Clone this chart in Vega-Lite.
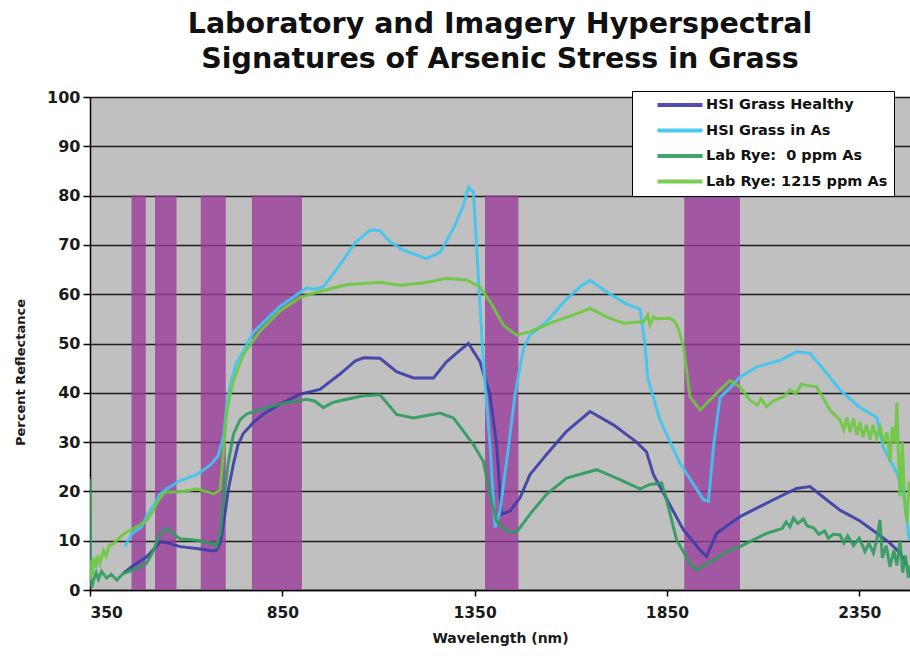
{
  "$schema": "https://vega.github.io/schema/vega-lite/v6.json",
  "width": 820,
  "height": 493,
  "autosize": {"type": "none"},
  "padding": {"left": 90, "top": 97, "right": 0, "bottom": 66},
  "background": "white",
  "config": {
    "font": "DejaVu Sans",
    "view": {"fill": "#C0C0C0", "stroke": null},
    "axis": {
      "labelFont": "DejaVu Sans",
      "labelFontWeight": "bold",
      "labelColor": "#1a1a1a",
      "titleFont": "DejaVu Sans",
      "titleFontWeight": "bold",
      "titleColor": "#1a1a1a",
      "domainColor": "#000000",
      "domainWidth": 1.5,
      "tickColor": "#000000",
      "tickWidth": 1.5
    }
  },
  "title": {
    "text": ["Laboratory and Imagery Hyperspectral", "Signatures of Arsenic Stress in Grass"],
    "font": "DejaVu Sans",
    "fontSize": 28.5,
    "fontWeight": "bold",
    "color": "#111111",
    "lineHeight": 35,
    "anchor": "middle",
    "offset": 16
  },
  "datasets": {
    "bands": [
      {"from": 458, "to": 495},
      {"from": 519, "to": 575},
      {"from": 638, "to": 703},
      {"from": 771, "to": 901},
      {"from": 1377, "to": 1464},
      {"from": 1895, "to": 2040}
    ],
    "healthy": [
      {"w": 437, "r": 3.4}, {"w": 460, "r": 4.8}, {"w": 497, "r": 6.7}, {"w": 520, "r": 8.6},
      {"w": 532, "r": 9.8}, {"w": 549, "r": 9.6}, {"w": 584, "r": 8.8}, {"w": 627, "r": 8.4},
      {"w": 671, "r": 7.9}, {"w": 680, "r": 8.1}, {"w": 690, "r": 10}, {"w": 700, "r": 15},
      {"w": 710, "r": 20.5}, {"w": 723, "r": 25.6}, {"w": 735, "r": 29.5}, {"w": 749, "r": 31.8},
      {"w": 775, "r": 34}, {"w": 801, "r": 35.7}, {"w": 844, "r": 37.7}, {"w": 896, "r": 39.7},
      {"w": 948, "r": 40.7}, {"w": 1000, "r": 43.8}, {"w": 1040, "r": 46.5}, {"w": 1061, "r": 47.1},
      {"w": 1104, "r": 47}, {"w": 1147, "r": 44.3}, {"w": 1191, "r": 43}, {"w": 1243, "r": 43},
      {"w": 1277, "r": 46.3}, {"w": 1310, "r": 48.5}, {"w": 1334, "r": 50}, {"w": 1364, "r": 46.3},
      {"w": 1390, "r": 39.6}, {"w": 1407, "r": 29.5}, {"w": 1420, "r": 15.4}, {"w": 1442, "r": 16},
      {"w": 1468, "r": 18.7}, {"w": 1494, "r": 23.4}, {"w": 1537, "r": 27.5}, {"w": 1589, "r": 32.2},
      {"w": 1650, "r": 36.2}, {"w": 1711, "r": 33.5}, {"w": 1771, "r": 30}, {"w": 1797, "r": 28},
      {"w": 1815, "r": 23.4}, {"w": 1849, "r": 18.5}, {"w": 1893, "r": 12.2}, {"w": 1936, "r": 8.1},
      {"w": 1953, "r": 6.8}, {"w": 1979, "r": 11.5}, {"w": 2040, "r": 14.9}, {"w": 2127, "r": 18.3},
      {"w": 2187, "r": 20.6}, {"w": 2222, "r": 21}, {"w": 2265, "r": 18.3}, {"w": 2300, "r": 16.2},
      {"w": 2352, "r": 14}, {"w": 2396, "r": 11.5}, {"w": 2430, "r": 9.5}, {"w": 2456, "r": 7.5},
      {"w": 2474, "r": 5}
    ],
    "stressed": [
      {"w": 441, "r": 8.8}, {"w": 458, "r": 11.4}, {"w": 484, "r": 12.8}, {"w": 497, "r": 14.8},
      {"w": 532, "r": 19.4}, {"w": 549, "r": 20.5}, {"w": 584, "r": 22.2}, {"w": 627, "r": 23.4},
      {"w": 662, "r": 25.3}, {"w": 683, "r": 27.2}, {"w": 697, "r": 31}, {"w": 705, "r": 37},
      {"w": 714, "r": 41.5}, {"w": 730, "r": 46}, {"w": 749, "r": 48.5}, {"w": 775, "r": 52.3},
      {"w": 810, "r": 55}, {"w": 844, "r": 57.5}, {"w": 880, "r": 59.5}, {"w": 913, "r": 61.3},
      {"w": 935, "r": 61}, {"w": 957, "r": 61.5}, {"w": 1000, "r": 66}, {"w": 1040, "r": 70.5},
      {"w": 1078, "r": 73}, {"w": 1104, "r": 72.9}, {"w": 1130, "r": 70.6}, {"w": 1165, "r": 68.9},
      {"w": 1191, "r": 68.2}, {"w": 1225, "r": 67.2}, {"w": 1260, "r": 68.5}, {"w": 1295, "r": 73.3},
      {"w": 1321, "r": 78}, {"w": 1334, "r": 81.7}, {"w": 1347, "r": 80.7}, {"w": 1360, "r": 63},
      {"w": 1373, "r": 46}, {"w": 1390, "r": 29.5}, {"w": 1403, "r": 12.7}, {"w": 1416, "r": 16},
      {"w": 1433, "r": 26}, {"w": 1455, "r": 39.6}, {"w": 1477, "r": 49}, {"w": 1494, "r": 51.7},
      {"w": 1537, "r": 54.4}, {"w": 1589, "r": 59}, {"w": 1624, "r": 61.5}, {"w": 1650, "r": 62.8},
      {"w": 1693, "r": 60.5}, {"w": 1745, "r": 58}, {"w": 1780, "r": 57}, {"w": 1793, "r": 50},
      {"w": 1800, "r": 43}, {"w": 1832, "r": 34.5}, {"w": 1884, "r": 25.7}, {"w": 1945, "r": 18.3},
      {"w": 1958, "r": 18}, {"w": 1971, "r": 29}, {"w": 1988, "r": 39}, {"w": 2014, "r": 41},
      {"w": 2040, "r": 43.2}, {"w": 2083, "r": 45.2}, {"w": 2144, "r": 46.6}, {"w": 2187, "r": 48.3},
      {"w": 2222, "r": 48}, {"w": 2265, "r": 44}, {"w": 2300, "r": 40.6}, {"w": 2352, "r": 37},
      {"w": 2396, "r": 35}, {"w": 2412, "r": 29}, {"w": 2448, "r": 23.7}, {"w": 2464, "r": 20.3},
      {"w": 2474, "r": 14.2}, {"w": 2480, "r": 10}
    ],
    "rye0": [
      {"w": 350, "r": 22.5}, {"w": 351, "r": 2}, {"w": 355, "r": 0.5}, {"w": 359, "r": 2},
      {"w": 366, "r": 3.5}, {"w": 372, "r": 2.2}, {"w": 380, "r": 3.8}, {"w": 393, "r": 2.4},
      {"w": 405, "r": 3.2}, {"w": 420, "r": 2}, {"w": 437, "r": 3.4}, {"w": 460, "r": 4},
      {"w": 497, "r": 5.4}, {"w": 515, "r": 8}, {"w": 532, "r": 11.4}, {"w": 549, "r": 12.5},
      {"w": 565, "r": 11.5}, {"w": 584, "r": 10.4}, {"w": 627, "r": 10.1}, {"w": 671, "r": 9.4},
      {"w": 679, "r": 8.8}, {"w": 690, "r": 12}, {"w": 697, "r": 18.2}, {"w": 710, "r": 26},
      {"w": 723, "r": 31.6}, {"w": 740, "r": 34.5}, {"w": 757, "r": 35.7}, {"w": 809, "r": 37},
      {"w": 861, "r": 38}, {"w": 913, "r": 38.7}, {"w": 935, "r": 38.3}, {"w": 957, "r": 37},
      {"w": 980, "r": 38}, {"w": 1000, "r": 38.4}, {"w": 1061, "r": 39.4}, {"w": 1104, "r": 39.6},
      {"w": 1147, "r": 35.6}, {"w": 1191, "r": 34.9}, {"w": 1260, "r": 35.9}, {"w": 1295, "r": 34.9},
      {"w": 1347, "r": 29.5}, {"w": 1373, "r": 26}, {"w": 1390, "r": 19.4}, {"w": 1407, "r": 14},
      {"w": 1433, "r": 12}, {"w": 1459, "r": 11.7}, {"w": 1494, "r": 15.4}, {"w": 1537, "r": 19.4},
      {"w": 1589, "r": 22.7}, {"w": 1667, "r": 24.4}, {"w": 1728, "r": 22.4}, {"w": 1780, "r": 20.5},
      {"w": 1806, "r": 21.4}, {"w": 1836, "r": 21.7}, {"w": 1849, "r": 18.3}, {"w": 1875, "r": 10.2},
      {"w": 1910, "r": 5.4}, {"w": 1927, "r": 4.1}, {"w": 1971, "r": 6.1}, {"w": 2014, "r": 8.1},
      {"w": 2040, "r": 8.8}, {"w": 2109, "r": 11.5}, {"w": 2150, "r": 12.5}, {"w": 2160, "r": 13.8},
      {"w": 2170, "r": 12.8}, {"w": 2179, "r": 14.6}, {"w": 2190, "r": 13.5}, {"w": 2205, "r": 14.4},
      {"w": 2215, "r": 13}, {"w": 2231, "r": 12.6}, {"w": 2245, "r": 11.3}, {"w": 2260, "r": 12},
      {"w": 2270, "r": 10.5}, {"w": 2283, "r": 11.3}, {"w": 2300, "r": 11.2}, {"w": 2310, "r": 9.5},
      {"w": 2320, "r": 11}, {"w": 2335, "r": 9}, {"w": 2350, "r": 10.5}, {"w": 2365, "r": 7.8},
      {"w": 2375, "r": 9.5}, {"w": 2387, "r": 7.5}, {"w": 2395, "r": 10}, {"w": 2404, "r": 14.2},
      {"w": 2410, "r": 6.5}, {"w": 2420, "r": 9}, {"w": 2430, "r": 4.7}, {"w": 2440, "r": 8},
      {"w": 2448, "r": 5}, {"w": 2456, "r": 10.1}, {"w": 2463, "r": 3.5}, {"w": 2470, "r": 7},
      {"w": 2478, "r": 2.5}, {"w": 2482, "r": 5}
    ],
    "rye1215": [
      {"w": 350, "r": 2}, {"w": 352, "r": 6}, {"w": 356, "r": 3}, {"w": 360, "r": 6.5},
      {"w": 365, "r": 4.5}, {"w": 370, "r": 7}, {"w": 376, "r": 5.5}, {"w": 385, "r": 8},
      {"w": 392, "r": 6.8}, {"w": 400, "r": 9}, {"w": 411, "r": 9.4}, {"w": 425, "r": 10.5},
      {"w": 440, "r": 11.5}, {"w": 454, "r": 12.1}, {"w": 475, "r": 13}, {"w": 497, "r": 14.1},
      {"w": 510, "r": 15.5}, {"w": 523, "r": 17.5}, {"w": 540, "r": 19.5}, {"w": 549, "r": 19.9},
      {"w": 584, "r": 19.9}, {"w": 627, "r": 20.5}, {"w": 660, "r": 19.8}, {"w": 671, "r": 19.5},
      {"w": 688, "r": 20.2}, {"w": 697, "r": 28}, {"w": 705, "r": 35.7}, {"w": 714, "r": 39.5},
      {"w": 723, "r": 42.4}, {"w": 749, "r": 47.8}, {"w": 792, "r": 52.5}, {"w": 844, "r": 56.6},
      {"w": 896, "r": 59.3}, {"w": 948, "r": 60.6}, {"w": 1017, "r": 61.9}, {"w": 1104, "r": 62.4},
      {"w": 1156, "r": 61.8}, {"w": 1208, "r": 62.2}, {"w": 1277, "r": 63.2}, {"w": 1329, "r": 62.9},
      {"w": 1364, "r": 61.5}, {"w": 1390, "r": 58.5}, {"w": 1425, "r": 53.7}, {"w": 1459, "r": 51.7},
      {"w": 1494, "r": 52.4}, {"w": 1555, "r": 54.4}, {"w": 1607, "r": 55.8}, {"w": 1650, "r": 57.1},
      {"w": 1693, "r": 55.4}, {"w": 1737, "r": 54.1}, {"w": 1789, "r": 54.4}, {"w": 1800, "r": 55.8},
      {"w": 1806, "r": 53.8}, {"w": 1815, "r": 55.4}, {"w": 1823, "r": 55}, {"w": 1858, "r": 55.1},
      {"w": 1870, "r": 54.5}, {"w": 1880, "r": 53}, {"w": 1893, "r": 49.3}, {"w": 1910, "r": 39.2},
      {"w": 1936, "r": 36.5}, {"w": 1979, "r": 39.9}, {"w": 2014, "r": 42.5}, {"w": 2040, "r": 41.2},
      {"w": 2066, "r": 38.5}, {"w": 2085, "r": 37.5}, {"w": 2095, "r": 38.8}, {"w": 2109, "r": 37.2},
      {"w": 2130, "r": 38.5}, {"w": 2153, "r": 39.2}, {"w": 2170, "r": 40.6}, {"w": 2185, "r": 39.8},
      {"w": 2200, "r": 41.8}, {"w": 2213, "r": 41.5}, {"w": 2239, "r": 41.2}, {"w": 2274, "r": 36.5},
      {"w": 2300, "r": 34.5}, {"w": 2310, "r": 32.5}, {"w": 2318, "r": 35}, {"w": 2326, "r": 32},
      {"w": 2335, "r": 34.8}, {"w": 2344, "r": 31.5}, {"w": 2352, "r": 34}, {"w": 2360, "r": 31},
      {"w": 2369, "r": 33.5}, {"w": 2378, "r": 30.5}, {"w": 2386, "r": 33.5}, {"w": 2395, "r": 30.8},
      {"w": 2404, "r": 33}, {"w": 2413, "r": 30}, {"w": 2422, "r": 32}, {"w": 2430, "r": 26},
      {"w": 2436, "r": 33}, {"w": 2443, "r": 29.8}, {"w": 2448, "r": 38}, {"w": 2452, "r": 27},
      {"w": 2456, "r": 19}, {"w": 2462, "r": 30}, {"w": 2468, "r": 18}, {"w": 2474, "r": 13.6},
      {"w": 2480, "r": 22}
    ]
  },
  "layer": [
    {
      "data": {"name": "bands"},
      "mark": {"type": "rect", "color": "#983C98", "opacity": 0.8},
      "encoding": {
        "x": {
          "field": "from",
          "type": "quantitative",
          "scale": {"domain": [350, 2482], "nice": false, "zero": false},
          "axis": {
            "title": "Wavelength (nm)",
            "values": [350, 850, 1350, 1850, 2350],
            "format": "d",
            "grid": false,
            "tickSize": 6,
            "labelFontSize": 15.5,
            "labelPadding": 9,
            "titleFontSize": 14,
            "titlePadding": 11
          }
        },
        "x2": {"field": "to"},
        "y": {
          "datum": 0,
          "type": "quantitative",
          "scale": {"domain": [0, 100], "nice": false},
          "axis": {
            "title": "Percent Reflectance",
            "values": [0, 10, 20, 30, 40, 50, 60, 70, 80, 90, 100],
            "grid": true,
            "gridColor": "#000000",
            "gridWidth": 1.5,
            "gridOpacity": 0.85,
            "tickSize": 7,
            "labelFontSize": 16,
            "labelPadding": 3,
            "titleFontSize": 13,
            "titleAngle": -90,
            "titleAlign": "center",
            "titleBaseline": "alphabetic",
            "titleX": -66,
            "titleY": 275
          }
        },
        "y2": {"datum": 80}
      }
    },
    {
      "data": {"name": "healthy"},
      "mark": {"type": "line", "strokeWidth": 3, "opacity": 0.9, "clip": true},
      "encoding": {
        "x": {"field": "w", "type": "quantitative"},
        "y": {"field": "r", "type": "quantitative"},
        "color": {
          "datum": "HSI Grass Healthy",
          "scale": {
            "domain": ["HSI Grass Healthy", "HSI Grass in As", "Lab Rye:\u00a0 0 ppm As", "Lab Rye: 1215 ppm As"],
            "range": ["#3B3DA6", "#3DC6F2", "#2E9B5E", "#6CC93F"]
          },
          "legend": {
            "title": null,
            "orient": "none",
            "legendX": 542,
            "legendY": -6,
            "fillColor": "#FFFFFF",
            "strokeColor": "#000000",
            "padding": 6,
            "symbolType": "M-4,0H4",
            "symbolSize": 127,
            "symbolStrokeWidth": 4,
            "symbolOffset": 34,
            "labelOffset": 18,
            "labelLimit": 400,
            "labelFont": "DejaVu Sans",
            "labelFontSize": 14.5,
            "labelFontWeight": "bold",
            "labelColor": "#111111",
            "rowPadding": 9.5
          }
        }
      }
    },
    {
      "data": {"name": "stressed"},
      "mark": {"type": "line", "strokeWidth": 3, "opacity": 0.9, "clip": true},
      "encoding": {
        "x": {"field": "w", "type": "quantitative"},
        "y": {"field": "r", "type": "quantitative"},
        "color": {"datum": "HSI Grass in As"}
      }
    },
    {
      "data": {"name": "rye0"},
      "mark": {"type": "line", "strokeWidth": 3, "opacity": 0.9, "clip": true},
      "encoding": {
        "x": {"field": "w", "type": "quantitative"},
        "y": {"field": "r", "type": "quantitative"},
        "color": {"datum": "Lab Rye:\u00a0 0 ppm As"}
      }
    },
    {
      "data": {"name": "rye1215"},
      "mark": {"type": "line", "strokeWidth": 3, "opacity": 0.9, "clip": true},
      "encoding": {
        "x": {"field": "w", "type": "quantitative"},
        "y": {"field": "r", "type": "quantitative"},
        "color": {"datum": "Lab Rye: 1215 ppm As"}
      }
    }
  ]
}
